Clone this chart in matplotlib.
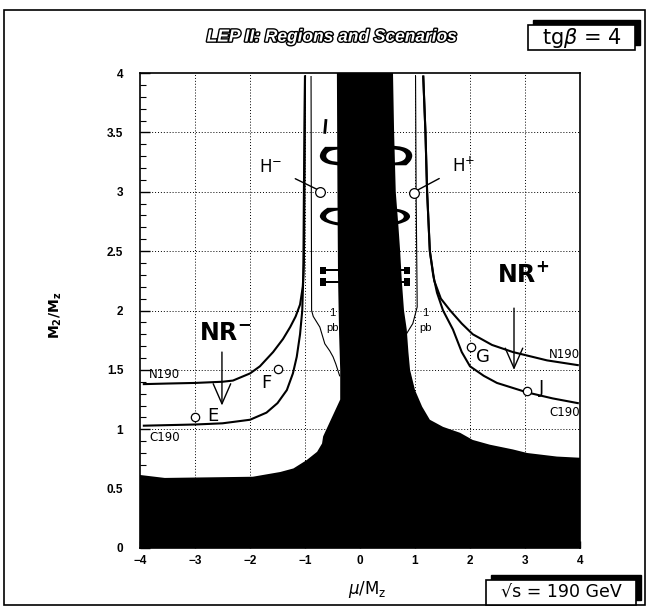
import numpy as np
import matplotlib
matplotlib.use('Agg')
import matplotlib.pyplot as plt
from matplotlib.patches import Rectangle, PathPatch
from matplotlib.textpath import TextPath
from matplotlib.font_manager import FontProperties
from matplotlib.transforms import Affine2D
import matplotlib.patheffects as pe

plt.rcParams['font.family'] = ['Liberation Sans', 'DejaVu Sans']
plt.rcParams['mathtext.fontset'] = 'dejavusans'

# excluded (black) region, left boundary from mu=-4 up the column
excl_left_x = [-4.0, -3.55, -1.95, -1.45, -1.21, -0.97, -0.78, -0.69, -0.67, -0.55, -0.42, -0.36, -0.36, -0.38, -0.40, -0.41, -0.42]
excl_left_y = [0.615, 0.59, 0.60, 0.64, 0.67, 0.74, 0.81, 0.88, 0.94, 1.06, 1.19, 1.25, 1.5, 1.8, 2.3, 3.0, 4.0]
# right boundary from top of column down to mu=4
excl_right_x = [0.60, 0.62, 0.65, 0.70, 0.73, 0.76, 0.80, 0.85, 0.88, 0.91, 1.0, 1.13, 1.27, 1.51, 1.82, 2.05, 2.36, 2.78, 3.04, 3.58, 4.0]
excl_right_y = [4.0, 3.5, 3.0, 2.7, 2.5, 2.25, 2.0, 1.84, 1.65, 1.5, 1.33, 1.19, 1.08, 1.02, 0.97, 0.91, 0.87, 0.83, 0.80, 0.77, 0.76]

# kinematic limits, mu < 0
n190_neg_x = [-3.93, -3.5, -3.0, -2.5, -2.31, -2.0, -1.82, -1.58, -1.4, -1.27, -1.17, -1.09, -1.04, -1.02, -1.01, -1.0]
n190_neg_y = [1.38, 1.385, 1.39, 1.40, 1.41, 1.47, 1.53, 1.65, 1.76, 1.86, 1.95, 2.05, 2.2, 2.4, 3.0, 3.97]
c190_neg_x = [-3.93, -3.0, -2.5, -2.0, -1.7, -1.5, -1.33, -1.22, -1.15, -1.09, -1.05, -1.03, -1.02, -1.0]
c190_neg_y = [1.03, 1.04, 1.05, 1.08, 1.14, 1.22, 1.33, 1.47, 1.61, 1.8, 2.0, 2.3, 3.0, 3.97]
# kinematic limits, mu > 0
n190_pos_x = [1.15, 1.19, 1.22, 1.27, 1.35, 1.47, 1.64, 1.85, 2.05, 2.4, 2.78, 3.4, 3.96]
n190_pos_y = [3.97, 3.5, 3.0, 2.5, 2.25, 2.1, 2.0, 1.89, 1.80, 1.71, 1.65, 1.58, 1.54]
c190_pos_x = [1.15, 1.19, 1.22, 1.27, 1.33, 1.40, 1.51, 1.69, 1.85, 2.0, 2.25, 2.49, 3.04, 3.5, 3.96]
c190_pos_y = [3.97, 3.5, 3.0, 2.5, 2.3, 2.15, 2.0, 1.84, 1.65, 1.53, 1.45, 1.39, 1.31, 1.26, 1.22]
# 1 pb contours
pb_neg_x = [-0.89, -0.88, -0.85, -0.73, -0.64, -0.55, -0.49, -0.44, -0.37]
pb_neg_y = [3.97, 2.0, 1.95, 1.86, 1.72, 1.66, 1.61, 1.55, 1.45]
pb_pos_x = [1.01, 1.02, 1.04, 0.96, 0.84]
pb_pos_y = [3.97, 3.0, 2.03, 1.89, 1.80]

# scenario points
pt_names = ['E', 'F', 'G', 'J']
pt_x = [-3.0, -1.49, 2.02, 3.04]
pt_y = [1.10, 1.51, 1.69, 1.32]
higgs_x = [-0.73, 0.98]
higgs_y = [3.0, 2.99]

W, H = 649, 607
fig = plt.figure(figsize=(W / 100, H / 100), dpi=100)
ax = fig.add_axes([140 / W, 1 - 548 / H, 440 / W, 475 / H])
ax.set_xlim(-4, 4)
ax.set_ylim(0, 4)

# grid
for gx in [-3, -2, -1, 1, 2, 3]:
    ax.axvline(gx, color='k', lw=0.7, ls=(0, (1, 2)), zorder=0.5)
for gy in [0.5, 1, 1.5, 2, 2.5, 3, 3.5]:
    ax.axhline(gy, color='k', lw=0.7, ls=(0, (1, 2)), zorder=0.5)

# squashed, rotated letters partly hidden by the column
def glyph(ch, x0, x1, y0, y1):
    tp = TextPath((0, 0), ch, size=1, prop=FontProperties(family='DejaVu Serif'))
    tp = Affine2D().rotate_deg(90).transform_path(tp)
    e = tp.get_extents()
    tr = Affine2D().translate(-e.x0, -e.y0).scale((x1 - x0) / e.width, (y1 - y0) / e.height).translate(x0, y0)
    ax.add_patch(PathPatch(tr.transform_path(tp), fc='k', ec='none', zorder=1))

glyph('S', -0.73, 0.95, 3.22, 3.39)
glyph('C', -0.73, 0.91, 2.70, 2.87)
glyph('H', -0.73, 0.91, 2.21, 2.37)
ax.plot([-0.62, -0.64], [3.60, 3.50], color='k', lw=2, zorder=1)

# excluded region
bx = [-4.0] + excl_left_x + excl_right_x + [4.0]
by = [0.0] + excl_left_y + excl_right_y + [0.0]
ax.fill(bx, by, color='k', lw=0, zorder=2)

# curves
for xs, ys in [(n190_neg_x, n190_neg_y), (c190_neg_x, c190_neg_y),
               (n190_pos_x, n190_pos_y), (c190_pos_x, c190_pos_y)]:
    ax.plot(xs, ys, color='k', lw=1.5, zorder=3)
ax.plot(pb_neg_x, pb_neg_y, color='k', lw=0.8, zorder=3)
ax.plot(pb_pos_x, pb_pos_y, color='k', lw=0.8, zorder=3)

# points
ax.plot(pt_x, pt_y, 'o', mfc='white', mec='k', ms=6, mew=0.9, zorder=4)
ax.plot(higgs_x, higgs_y, 'o', mfc='white', mec='k', ms=7, mew=0.9, zorder=4)

lab = dict(fontsize=13, family='DejaVu Sans', zorder=5)
ax.text(-2.78, 1.11, 'E', ha='left', va='center', **lab)
ax.text(-1.70, 1.39, 'F', ha='center', va='center', **lab)
ax.text(2.24, 1.61, 'G', ha='center', va='center', **lab)
ax.text(3.31, 1.35, 'J', ha='center', va='center', **lab)

ax.annotate('H$^{-}$', xy=(-0.78, 3.02), xytext=(-1.62, 3.21), ha='center', va='center',
            fontsize=12, family='DejaVu Sans', arrowprops=dict(arrowstyle='-', lw=1, shrinkA=8, shrinkB=0))
ax.annotate('H$^{+}$', xy=(1.03, 3.01), xytext=(1.88, 3.22), ha='center', va='center',
            fontsize=12, family='DejaVu Sans', arrowprops=dict(arrowstyle='-', lw=1, shrinkA=8, shrinkB=0))

small = dict(fontsize=8.5, family='DejaVu Sans', zorder=5)
ax.text(-3.83, 1.46, 'N190', ha='left', va='center', **small)
ax.text(-3.83, 0.93, 'C190', ha='left', va='center', **small)
ax.text(4.0, 1.63, 'N190', ha='right', va='center', **small)
ax.text(4.0, 1.14, 'C190', ha='right', va='center', **small)
for tx in [-0.50, 1.19]:
    ax.text(tx, 1.98, '1', ha='center', va='center', fontsize=8, zorder=5)
    ax.text(tx, 1.85, 'pb', ha='center', va='center', fontsize=8, zorder=5)

# NR labels and arrows
ax.text(-2.45, 1.80, r'$\mathbf{NR^{-}}$', ha='center', va='center', fontsize=17, zorder=5)
ax.text(2.96, 2.30, r'$\mathbf{NR^{+}}$', ha='center', va='center', fontsize=17, zorder=5)
hd = dict(arrowstyle='->,head_length=0.8,head_width=0.35', lw=1, mutation_scale=18, shrinkA=0, shrinkB=0)
ax.annotate('', xy=(-2.51, 1.20), xytext=(-2.51, 1.65), arrowprops=hd)
ax.annotate('', xy=(2.80, 1.50), xytext=(2.80, 2.02), arrowprops=hd)

# axes styling
ax.set_xticks(np.arange(-4, 5, 1))
ax.set_yticks(np.arange(0, 4.01, 0.5))
ax.set_yticklabels(['0', '0.5', '1', '1.5', '2', '2.5', '3', '3.5', '4'])
ax.set_yticks(np.arange(0, 4.01, 0.1), minor=True)
ax.tick_params(axis='y', which='major', direction='in', length=7, width=1, pad=12, labelsize=8.5)
ax.tick_params(axis='y', which='minor', direction='in', length=4, width=0.8)
ax.tick_params(axis='x', which='major', direction='in', length=5, width=1, pad=5, labelsize=8.5)
for t in ax.get_xticklabels() + ax.get_yticklabels():
    t.set_fontweight('bold')
for s in ax.spines.values():
    s.set_linewidth(1.2)

fig.text(367 / W, 1 - 590 / H, r'$\mu/\mathrm{M_z}$', ha='center', va='center', fontsize=12)
fig.text(56 / W, 1 - 315 / H, r'$\mathbf{M_2/M_z}$', ha='center', va='center', rotation=90, fontsize=10)

# title
fig.text(332 / W, 1 - 37 / H, 'LEP II: Regions and Scenarios', ha='center', va='center',
         fontsize=12.5, fontweight='bold', fontstyle='italic', color='white',
         path_effects=[pe.withStroke(linewidth=2, foreground='k')])

# outer frame
fig.patches.append(Rectangle((4 / W, 1 - 605 / H), 641 / W, 595 / H, transform=fig.transFigure,
                             fill=False, ec='k', lw=1.2))

# boxed labels with shadows
def box(x0, y0, x1, y1, text, fs):
    fig.patches.append(Rectangle((x0 / W + 5 / W, 1 - y1 / H + 5 / H), (x1 - x0) / W, (y1 - y0) / H,
                                 transform=fig.transFigure, fc='k', ec='k', zorder=5))
    fig.patches.append(Rectangle((x0 / W, 1 - y1 / H), (x1 - x0) / W, (y1 - y0) / H,
                                 transform=fig.transFigure, fc='white', ec='k', lw=1.2, zorder=6))
    fig.text((x0 + x1) / 2 / W, 1 - (y0 + y1) / 2 / H, text, ha='center', va='center',
             fontsize=fs, family='DejaVu Sans', zorder=7)

box(528, 25, 635, 50, r'tg$\beta$ = 4', 15)
box(486, 580, 636, 605, '\u221as = 190 GeV', 12.5)

fig.savefig('out.png', dpi=100)
